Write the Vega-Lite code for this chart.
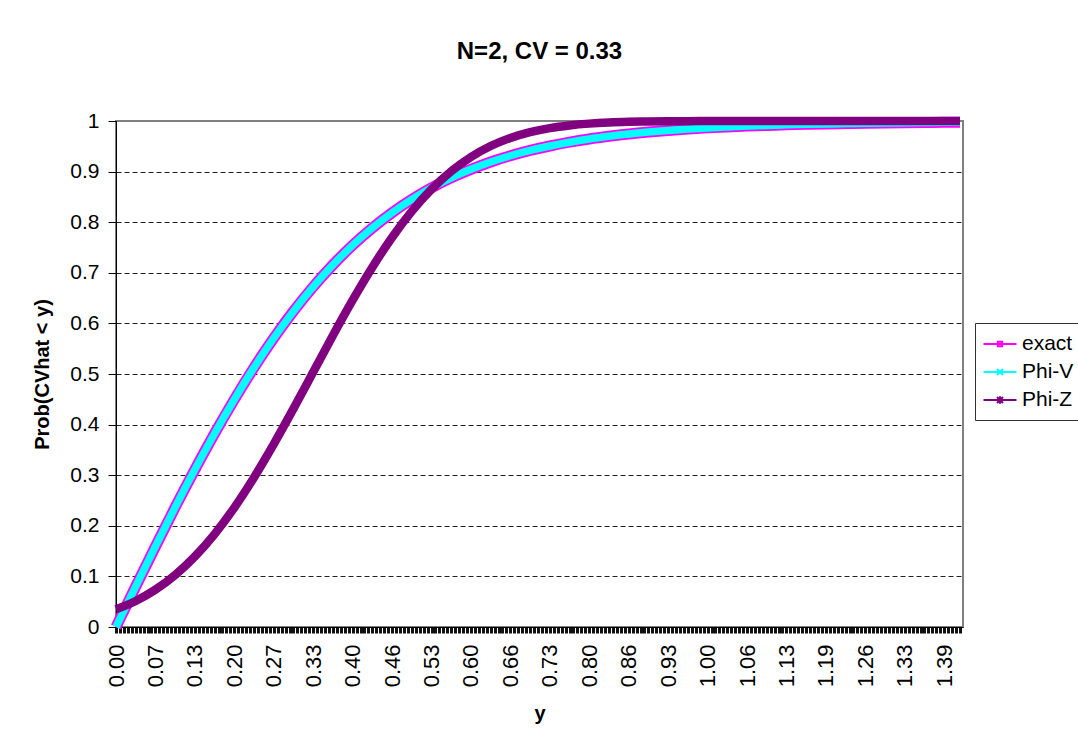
{
  "$schema": "https://vega.github.io/schema/vega-lite/v6.json",
  "width": 847,
  "height": 506,
  "autosize": "none",
  "padding": {"left": 116, "top": 121, "right": 115, "bottom": 113},
  "background": "white",
  "title": {"text": "N=2, CV = 0.33", "fontSize": 24, "fontWeight": "bold", "font": "Liberation Sans", "anchor": "middle", "frame": "group", "baseline": "bottom", "offset": 12, "color": "black"},
  "data": {"values": [
    {"cv": 0, "prob": 0, "series": "exact"},
    {"cv": 0.0332, "prob": 0.0801, "series": "exact"},
    {"cv": 0.0664, "prob": 0.1592, "series": "exact"},
    {"cv": 0.0995, "prob": 0.2365, "series": "exact"},
    {"cv": 0.1327, "prob": 0.3111, "series": "exact"},
    {"cv": 0.1659, "prob": 0.3824, "series": "exact"},
    {"cv": 0.1991, "prob": 0.4497, "series": "exact"},
    {"cv": 0.2322, "prob": 0.5126, "series": "exact"},
    {"cv": 0.2654, "prob": 0.5708, "series": "exact"},
    {"cv": 0.2986, "prob": 0.6241, "series": "exact"},
    {"cv": 0.3318, "prob": 0.6725, "series": "exact"},
    {"cv": 0.3649, "prob": 0.7157, "series": "exact"},
    {"cv": 0.3981, "prob": 0.7545, "series": "exact"},
    {"cv": 0.4313, "prob": 0.7887, "series": "exact"},
    {"cv": 0.4644, "prob": 0.8188, "series": "exact"},
    {"cv": 0.4976, "prob": 0.8451, "series": "exact"},
    {"cv": 0.5308, "prob": 0.8679, "series": "exact"},
    {"cv": 0.564, "prob": 0.8876, "series": "exact"},
    {"cv": 0.5972, "prob": 0.9045, "series": "exact"},
    {"cv": 0.6303, "prob": 0.919, "series": "exact"},
    {"cv": 0.6635, "prob": 0.9313, "series": "exact"},
    {"cv": 0.6967, "prob": 0.9418, "series": "exact"},
    {"cv": 0.7299, "prob": 0.9506, "series": "exact"},
    {"cv": 0.763, "prob": 0.9581, "series": "exact"},
    {"cv": 0.7962, "prob": 0.9645, "series": "exact"},
    {"cv": 0.8294, "prob": 0.9698, "series": "exact"},
    {"cv": 0.8626, "prob": 0.9744, "series": "exact"},
    {"cv": 0.8957, "prob": 0.9782, "series": "exact"},
    {"cv": 0.9289, "prob": 0.9814, "series": "exact"},
    {"cv": 0.9621, "prob": 0.9841, "series": "exact"},
    {"cv": 0.9953, "prob": 0.9864, "series": "exact"},
    {"cv": 1.0284, "prob": 0.9883, "series": "exact"},
    {"cv": 1.0616, "prob": 0.9899, "series": "exact"},
    {"cv": 1.0948, "prob": 0.9913, "series": "exact"},
    {"cv": 1.128, "prob": 0.9925, "series": "exact"},
    {"cv": 1.1611, "prob": 0.9935, "series": "exact"},
    {"cv": 1.1943, "prob": 0.9943, "series": "exact"},
    {"cv": 1.2275, "prob": 0.995, "series": "exact"},
    {"cv": 1.2606, "prob": 0.9957, "series": "exact"},
    {"cv": 1.2938, "prob": 0.9962, "series": "exact"},
    {"cv": 1.327, "prob": 0.9966, "series": "exact"},
    {"cv": 1.3602, "prob": 0.997, "series": "exact"},
    {"cv": 1.3933, "prob": 0.9974, "series": "exact"},
    {"cv": 1.4199, "prob": 0.9976, "series": "exact"},
    {"cv": 0, "prob": 0, "series": "Phi-V"},
    {"cv": 0.0332, "prob": 0.0801, "series": "Phi-V"},
    {"cv": 0.0664, "prob": 0.1592, "series": "Phi-V"},
    {"cv": 0.0995, "prob": 0.2365, "series": "Phi-V"},
    {"cv": 0.1327, "prob": 0.3111, "series": "Phi-V"},
    {"cv": 0.1659, "prob": 0.3824, "series": "Phi-V"},
    {"cv": 0.1991, "prob": 0.4497, "series": "Phi-V"},
    {"cv": 0.2322, "prob": 0.5126, "series": "Phi-V"},
    {"cv": 0.2654, "prob": 0.5708, "series": "Phi-V"},
    {"cv": 0.2986, "prob": 0.6241, "series": "Phi-V"},
    {"cv": 0.3318, "prob": 0.6725, "series": "Phi-V"},
    {"cv": 0.3649, "prob": 0.7157, "series": "Phi-V"},
    {"cv": 0.3981, "prob": 0.7545, "series": "Phi-V"},
    {"cv": 0.4313, "prob": 0.7887, "series": "Phi-V"},
    {"cv": 0.4644, "prob": 0.8188, "series": "Phi-V"},
    {"cv": 0.4976, "prob": 0.8451, "series": "Phi-V"},
    {"cv": 0.5308, "prob": 0.8679, "series": "Phi-V"},
    {"cv": 0.564, "prob": 0.8876, "series": "Phi-V"},
    {"cv": 0.5972, "prob": 0.9045, "series": "Phi-V"},
    {"cv": 0.6303, "prob": 0.919, "series": "Phi-V"},
    {"cv": 0.6635, "prob": 0.9313, "series": "Phi-V"},
    {"cv": 0.6967, "prob": 0.9418, "series": "Phi-V"},
    {"cv": 0.7299, "prob": 0.9506, "series": "Phi-V"},
    {"cv": 0.763, "prob": 0.9581, "series": "Phi-V"},
    {"cv": 0.7962, "prob": 0.9645, "series": "Phi-V"},
    {"cv": 0.8294, "prob": 0.9698, "series": "Phi-V"},
    {"cv": 0.8626, "prob": 0.9744, "series": "Phi-V"},
    {"cv": 0.8957, "prob": 0.9782, "series": "Phi-V"},
    {"cv": 0.9289, "prob": 0.9814, "series": "Phi-V"},
    {"cv": 0.9621, "prob": 0.9841, "series": "Phi-V"},
    {"cv": 0.9953, "prob": 0.9864, "series": "Phi-V"},
    {"cv": 1.0284, "prob": 0.9883, "series": "Phi-V"},
    {"cv": 1.0616, "prob": 0.9899, "series": "Phi-V"},
    {"cv": 1.0948, "prob": 0.9913, "series": "Phi-V"},
    {"cv": 1.128, "prob": 0.9925, "series": "Phi-V"},
    {"cv": 1.1611, "prob": 0.9935, "series": "Phi-V"},
    {"cv": 1.1943, "prob": 0.9943, "series": "Phi-V"},
    {"cv": 1.2275, "prob": 0.995, "series": "Phi-V"},
    {"cv": 1.2606, "prob": 0.9957, "series": "Phi-V"},
    {"cv": 1.2938, "prob": 0.9962, "series": "Phi-V"},
    {"cv": 1.327, "prob": 0.9966, "series": "Phi-V"},
    {"cv": 1.3602, "prob": 0.997, "series": "Phi-V"},
    {"cv": 1.3933, "prob": 0.9974, "series": "Phi-V"},
    {"cv": 1.4199, "prob": 0.9976, "series": "Phi-V"},
    {"cv": 0, "prob": 0.035, "series": "Phi-Z"},
    {"cv": 0.0332, "prob": 0.0515, "series": "Phi-Z"},
    {"cv": 0.0664, "prob": 0.0738, "series": "Phi-Z"},
    {"cv": 0.0995, "prob": 0.1028, "series": "Phi-Z"},
    {"cv": 0.1327, "prob": 0.1393, "series": "Phi-Z"},
    {"cv": 0.1659, "prob": 0.1837, "series": "Phi-Z"},
    {"cv": 0.1991, "prob": 0.236, "series": "Phi-Z"},
    {"cv": 0.2322, "prob": 0.2956, "series": "Phi-Z"},
    {"cv": 0.2654, "prob": 0.3614, "series": "Phi-Z"},
    {"cv": 0.2986, "prob": 0.4315, "series": "Phi-Z"},
    {"cv": 0.3318, "prob": 0.5038, "series": "Phi-Z"},
    {"cv": 0.3649, "prob": 0.5761, "series": "Phi-Z"},
    {"cv": 0.3981, "prob": 0.6458, "series": "Phi-Z"},
    {"cv": 0.4313, "prob": 0.711, "series": "Phi-Z"},
    {"cv": 0.4644, "prob": 0.7699, "series": "Phi-Z"},
    {"cv": 0.4976, "prob": 0.8214, "series": "Phi-Z"},
    {"cv": 0.5308, "prob": 0.865, "series": "Phi-Z"},
    {"cv": 0.564, "prob": 0.9006, "series": "Phi-Z"},
    {"cv": 0.5972, "prob": 0.9288, "series": "Phi-Z"},
    {"cv": 0.6303, "prob": 0.9505, "series": "Phi-Z"},
    {"cv": 0.6635, "prob": 0.9665, "series": "Phi-Z"},
    {"cv": 0.6967, "prob": 0.978, "series": "Phi-Z"},
    {"cv": 0.7299, "prob": 0.986, "series": "Phi-Z"},
    {"cv": 0.763, "prob": 0.9913, "series": "Phi-Z"},
    {"cv": 0.7962, "prob": 0.9948, "series": "Phi-Z"},
    {"cv": 0.8294, "prob": 0.997, "series": "Phi-Z"},
    {"cv": 0.8626, "prob": 0.9983, "series": "Phi-Z"},
    {"cv": 0.8957, "prob": 0.9991, "series": "Phi-Z"},
    {"cv": 0.9289, "prob": 0.9995, "series": "Phi-Z"},
    {"cv": 0.9621, "prob": 0.9997, "series": "Phi-Z"},
    {"cv": 0.9953, "prob": 0.9999, "series": "Phi-Z"},
    {"cv": 1.0284, "prob": 0.9999, "series": "Phi-Z"},
    {"cv": 1.0616, "prob": 1, "series": "Phi-Z"},
    {"cv": 1.0948, "prob": 1, "series": "Phi-Z"},
    {"cv": 1.128, "prob": 1, "series": "Phi-Z"},
    {"cv": 1.1611, "prob": 1, "series": "Phi-Z"},
    {"cv": 1.1943, "prob": 1, "series": "Phi-Z"},
    {"cv": 1.2275, "prob": 1, "series": "Phi-Z"},
    {"cv": 1.2606, "prob": 1, "series": "Phi-Z"},
    {"cv": 1.2938, "prob": 1, "series": "Phi-Z"},
    {"cv": 1.327, "prob": 1, "series": "Phi-Z"},
    {"cv": 1.3602, "prob": 1, "series": "Phi-Z"},
    {"cv": 1.3933, "prob": 1, "series": "Phi-Z"},
    {"cv": 1.4199, "prob": 1, "series": "Phi-Z"}
  ]},
  "encoding": {
    "x": {
      "field": "cv", "type": "quantitative",
      "scale": {"domain": [0, 1.425], "nice": false, "zero": false},
      "axis": {
        "title": "y",
        "values": [0,0.0066,0.0133,0.0199,0.0265,0.0332,0.0398,0.0464,0.0531,0.0597,
          0.0664,0.073,0.0796,0.0863,0.0929,0.0995,0.1062,0.1128,0.1194,0.1261,
          0.1327,0.1393,0.146,0.1526,0.1592,0.1659,0.1725,0.1791,0.1858,0.1924,
          0.1991,0.2057,0.2123,0.219,0.2256,0.2322,0.2389,0.2455,0.2521,0.2588,
          0.2654,0.272,0.2787,0.2853,0.2919,0.2986,0.3052,0.3118,0.3185,0.3251,
          0.3318,0.3384,0.345,0.3517,0.3583,0.3649,0.3716,0.3782,0.3848,0.3915,
          0.3981,0.4047,0.4114,0.418,0.4246,0.4313,0.4379,0.4445,0.4512,0.4578,
          0.4644,0.4711,0.4777,0.4844,0.491,0.4976,0.5043,0.5109,0.5175,0.5242,
          0.5308,0.5374,0.5441,0.5507,0.5573,0.564,0.5706,0.5772,0.5839,0.5905,
          0.5972,0.6038,0.6104,0.6171,0.6237,0.6303,0.637,0.6436,0.6502,0.6569,
          0.6635,0.6701,0.6768,0.6834,0.69,0.6967,0.7033,0.7099,0.7166,0.7232,
          0.7299,0.7365,0.7431,0.7498,0.7564,0.763,0.7697,0.7763,0.7829,0.7896,
          0.7962,0.8028,0.8095,0.8161,0.8227,0.8294,0.836,0.8426,0.8493,0.8559,
          0.8626,0.8692,0.8758,0.8825,0.8891,0.8957,0.9024,0.909,0.9156,0.9223,
          0.9289,0.9355,0.9422,0.9488,0.9554,0.9621,0.9687,0.9753,0.982,0.9886,
          0.9953,1.0019,1.0085,1.0152,1.0218,1.0284,1.0351,1.0417,1.0483,1.055,
          1.0616,1.0682,1.0749,1.0815,1.0881,1.0948,1.1014,1.108,1.1147,1.1213,
          1.128,1.1346,1.1412,1.1479,1.1545,1.1611,1.1678,1.1744,1.181,1.1877,
          1.1943,1.2009,1.2076,1.2142,1.2208,1.2275,1.2341,1.2407,1.2474,1.254,
          1.2606,1.2673,1.2739,1.2806,1.2872,1.2938,1.3005,1.3071,1.3137,1.3204,
          1.327,1.3336,1.3403,1.3469,1.3535,1.3602,1.3668,1.3734,1.3801,1.3867,
          1.3933,1.4,1.4066,1.4133,1.4199],
        "labelExpr": "round(datum.value / 0.006635) % 10 == 0 ? format(datum.value, '.2f') : ''",
        "labelAngle": -90,
        "labelOverlap": false,
        "labelFlush": false,
        "labelBound": false,
        "labelFontSize": 22,
        "labelPadding": 11,
        "tickSize": 6,
        "tickWidth": 3,
        "tickColor": "#111111",
        "grid": false,
        "titleFontSize": 20,
        "titlePadding": 17
      }
    },
    "y": {
      "field": "prob", "type": "quantitative",
      "scale": {"domain": [0, 1], "nice": false},
      "axis": {
        "title": "Prob(CVhat < y)",
        "values": [0, 0.1, 0.2, 0.3, 0.4, 0.5, 0.6, 0.7, 0.8, 0.9, 1],
        "format": "~g",
        "grid": true,
        "gridColor": "#222222",
        "gridDash": [5, 3],
        "gridWidth": 1,
        "gridOpacity": {"condition": {"test": "datum.value == 1 || datum.value == 0", "value": 0}, "value": 1},
        "labelFontSize": 21,
        "labelPadding": 9,
        "tickSize": 8,
        "titleFontSize": 20,
        "titlePadding": 17
      }
    }
  },
  "layer": [
    {
      "transform": [{"filter": "datum.series == 'exact'"}],
      "mark": {"type": "line", "color": "#FF00FF", "strokeWidth": 11, "interpolate": "monotone"}
    },
    {
      "transform": [{"filter": "datum.series == 'Phi-V'"}],
      "mark": {"type": "line", "color": "#00FFFF", "strokeWidth": 7.5, "interpolate": "monotone"}
    },
    {
      "transform": [{"filter": "datum.series == 'Phi-Z'"}],
      "mark": {"type": "line", "color": "#800080", "strokeWidth": 8.5, "interpolate": "monotone"}
    },
    {
      "transform": [{"filter": "false"}],
      "mark": {"type": "point", "filled": false, "strokeWidth": 2, "size": 400, "opacity": 1},
      "encoding": {
        "color": {
          "field": "series", "type": "nominal",
          "scale": {"domain": ["exact", "Phi-V", "Phi-Z"], "range": ["#FF00FF", "#00FFFF", "#800080"]},
          "legend": {
            "orient": "none",
            "legendX": 859,
            "legendY": 202,
            "title": null,
            "padding": 10,
            "strokeColor": "#333333",
            "fillColor": "white",
            "labelFontSize": 21,
            "labelColor": "black",
            "labelOffset": 11,
            "symbolSize": 400,
            "symbolStrokeWidth": 2,
            "symbolOffset": 4,
            "rowPadding": 7,
            "encode": {"symbols": {"update": {"fill": {"scale": "color", "field": "value"}, "fillOpacity": {"value": 1}}}}
          }
        },
        "shape": {
          "field": "series", "type": "nominal",
          "scale": {"domain": ["exact", "Phi-V", "Phi-Z"], "range": [
            "M-1.65,0H1.65M-0.22,-0.22H0.22V0.22H-0.22Z",
            "M-1.65,0H1.65M-0.3,-0.3L0.3,0.3M-0.3,0.3L0.3,-0.3",
            "M-1.65,0H1.65M-0.3,-0.3L0.3,0.3M-0.3,0.3L0.3,-0.3M0,-0.38V0.38"
          ]}
        }
      }
    }
  ],
  "config": {
    "font": "Liberation Sans",
    "view": {"stroke": "#808080", "strokeWidth": 2},
    "axis": {
      "domainColor": "black",
      "domainWidth": 1,
      "tickColor": "black",
      "tickWidth": 1,
      "labelColor": "black",
      "labelFont": "Liberation Sans",
      "titleFont": "Liberation Sans",
      "titleColor": "black",
      "titleFontWeight": "bold"
    },
    "legend": {"labelFont": "Liberation Sans"}
  }
}
